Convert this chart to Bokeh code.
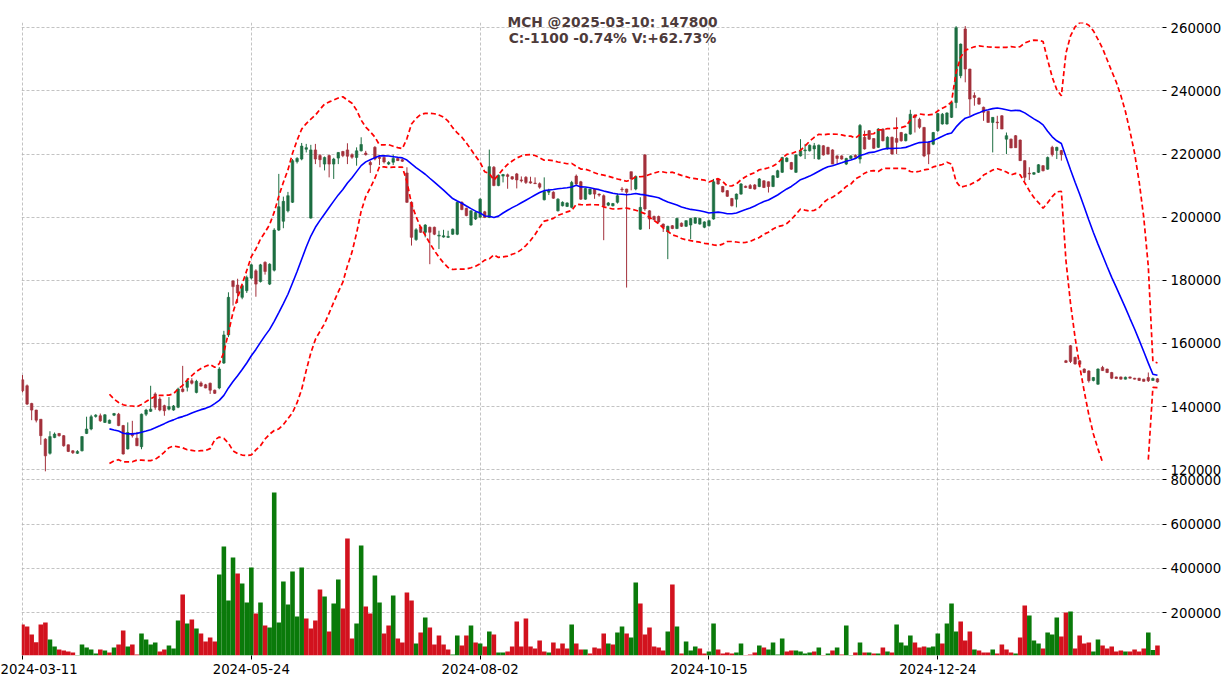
import numpy as np
import pandas as pd
from bokeh.plotting import figure
from bokeh.models import (ColumnDataSource, Range1d, FixedTicker, Label, BasicTickFormatter,
                          BoxAnnotation, Grid)
from bokeh.embed import file_html
from bokeh.resources import INLINE

title_text = "MCH @2025-03-10: 147800\nC:-1100 -0.74% V:+62.73%"
tick_index = [0, 50, 100, 150, 200]
tick_labels = ["2024-03-11", "2024-05-24", "2024-08-02", "2024-10-15", "2024-12-24"]
price_ticks = [120000, 140000, 160000, 180000, 200000, 220000, 240000, 260000]
volume_ticks = [200000, 400000, 600000, 800000]

opens = [
    148500, 146600, 141000, 138900, 136000, 129700, 125200, 130200, 131500, 130800,
    127900, 126000, 125200, 126000, 131500, 132900, 136900, 137100, 135000, 134700,
    137300, 137600, 134000, 126600, 131500, 130000, 127300, 137600, 138500, 144000,
    142400, 140300, 139200, 138900, 139800, 145600, 146100, 148200, 144500, 147500,
    146900, 147400, 145200, 145900, 153800, 162700, 179800, 178500, 174600, 176700,
    180700, 183000, 179600, 185700, 178800, 183200, 195900, 198700, 202000, 204700,
    217600, 218400, 221500, 199700, 221300, 219500, 216800, 219500, 216800, 218700,
    220800, 221300, 219800, 218900, 221000, 220300, 217300, 222100, 219000, 218900,
    216800, 217400, 218600, 218200, 214000, 204700, 192900, 196900, 195200, 196800,
    196800, 194000, 193700, 193600, 194600, 194600, 204700, 202800, 197500, 199400,
    200000, 201700, 199900, 215800, 210000, 213000, 213400, 212800, 213700, 211800,
    212600, 211200, 210800, 210600, 205500, 207900, 207900, 202000, 203600, 203400,
    203100, 213000, 211200, 205700, 207300, 208900, 207300, 206800, 203800, 203600,
    204700, 208900, 208900, 214400, 208900, 196200, 219700, 202000, 200200, 200200,
    197800, 195400, 197300, 196400, 198100, 197100, 197500, 198100, 197800, 196800,
    197300, 199400, 212100, 209700, 208400, 205900, 205700, 207300, 209800, 210000,
    210200, 209700, 211500, 211200, 209700, 212600, 214200, 217600, 217300, 214200,
    219400, 221000, 221000, 221600, 218400, 222600, 222100, 221300, 219400, 219400,
    216800, 218600, 219600, 218400, 225300, 227400, 224900, 222100, 227900, 221600,
    225300, 224900, 226800, 224200, 226300, 232300, 231000, 228400, 223700, 223100,
    227400, 229500, 229500, 231600, 236300, 244800, 259600, 246900, 238500, 237700,
    234800, 233500, 230000, 230100, 232100, 224700, 224700, 225800, 224400, 217900,
    213900, 213600, 214200, 216300, 215200, 222100, 221100, 221100, 154500, 159300,
    155600, 154500, 151900, 151300, 148300, 147100, 152400, 151900, 150800, 149400,
    149400, 148700, 149400, 149000, 149000, 148700, 149200, 148300, 148800,
]
highs = [
    150000, 147000, 141200, 139000, 136000, 130000, 132200, 131800, 131600, 131000,
    128000, 126200, 126200, 130600, 136800, 137400, 137600, 137800, 137600, 135900,
    138000, 138000, 134200, 135000, 135500, 132000, 137800, 139300, 146600, 144500,
    143000, 140600, 143000, 140500, 146000, 152900, 149000, 149000, 148500, 148000,
    147200, 147600, 145400, 152500, 164000, 176200, 180000, 180500, 178500, 181500,
    185200, 183500, 185200, 186000, 185400, 196500, 213700, 206500, 208000, 218400,
    219000, 223500, 223200, 222900, 223200, 220000, 219200, 219800, 218800, 220600,
    221000, 223400, 220200, 222100, 225300, 221000, 217800, 222500, 219500, 219300,
    217700, 219800, 219000, 218500, 215800, 205000, 196500, 197200, 197800, 197000,
    197000, 195700, 196000, 195700, 196400, 205000, 205000, 203000, 202200, 201800,
    206000, 202000, 221400, 216200, 213500, 213700, 213800, 213000, 214000, 212900,
    213000, 212800, 212600, 211000, 212600, 209000, 208200, 206000, 205000, 204700,
    211500, 213500, 211500, 209300, 209000, 209200, 207500, 207200, 204800, 204500,
    207500, 209500, 209000, 214400, 213200, 206300, 220000, 202200, 200500, 200500,
    198000, 197300, 197500, 199800, 198300, 199000, 199800, 200000, 199800, 198700,
    199200, 212100, 212200, 209900, 208600, 206100, 207500, 210800, 210000, 210500,
    210500, 212400, 211700, 211300, 213300, 215000, 219100, 219000, 217500, 220000,
    224700, 223200, 223000, 223500, 223000, 222800, 222300, 221500, 219600, 219600,
    218800, 219600, 219900, 229500, 227400, 227600, 225000, 228200, 228100, 225600,
    225500, 231600, 227000, 226500, 234000, 232600, 231500, 228600, 224000, 227000,
    233000, 233000, 233200, 236800, 260500, 255000, 260500, 247000, 239500, 237900,
    235000, 233700, 231600, 232100, 232300, 226800, 224900, 226000, 224600, 218000,
    215800, 214300, 216800, 216500, 219200, 222600, 222300, 221300, 154800, 159500,
    155800, 154700, 152100, 151500, 149400, 152100, 152900, 152000, 151000, 149500,
    149500, 149500, 149500, 149100, 149100, 148800, 150800, 149200, 149000,
]
lows = [
    144500, 140500, 135700, 135000, 127900, 119500, 124800, 130000, 130500, 127300,
    125600, 125000, 125000, 125800, 131300, 132500, 136500, 135200, 134800, 134600,
    137000, 133800, 124800, 126400, 130200, 127500, 126500, 137000, 138300, 139000,
    138500, 137100, 138800, 138700, 139500, 144500, 144800, 147000, 144200, 146300,
    145800, 144000, 144000, 145500, 153500, 162000, 172000, 172800, 174000, 176000,
    180300, 174800, 179300, 181800, 178500, 182800, 195600, 196500, 201500, 204500,
    217000, 218000, 220500, 199500, 216800, 215800, 214800, 212600, 212100, 216800,
    219000, 216800, 218500, 216300, 220800, 219500, 214000, 218000, 216500, 217000,
    216500, 216500, 217800, 217500, 204500, 191000, 192500, 195000, 193600, 185100,
    194300, 189900, 193500, 193400, 194400, 194300, 202200, 200300, 197300, 199100,
    199700, 199700, 199700, 209800, 209800, 211000, 209000, 211800, 209100, 211000,
    210500, 210600, 210500, 209000, 205300, 207000, 205800, 201800, 203400, 203200,
    202800, 210200, 205500, 205500, 207000, 205800, 206500, 192700, 203500, 203400,
    204300, 208000, 177700, 208500, 208500, 196000, 202000, 196200, 199000, 198000,
    195300, 186700, 196200, 196200, 196900, 196900, 193000, 197900, 197600, 196500,
    197000, 199200, 210300, 207800, 206400, 203400, 203100, 207100, 209200, 208900,
    208700, 209500, 209200, 207800, 209500, 212400, 214000, 217400, 215000, 214000,
    219200, 218400, 220800, 218400, 218200, 219500, 219800, 216800, 216800, 218200,
    216500, 218400, 218800, 217000, 221400, 224500, 221600, 221900, 224000, 221400,
    219800, 220000, 223900, 224000, 226100, 226800, 228000, 219000, 216800, 222800,
    227000, 229300, 229300, 231400, 234500, 244000, 242700, 232100, 235300, 235600,
    230500, 230000, 220500, 227900, 227900, 220000, 221900, 222000, 217900, 211500,
    211800, 213400, 214000, 214500, 215000, 219200, 218400, 217900, 153800, 153800,
    153300, 153200, 150600, 147600, 148000, 146900, 151300, 150600, 148700, 148800,
    148600, 148600, 148900, 148600, 148100, 147900, 147800, 148200, 147600,
]
closes = [
    145000, 140800, 138900, 135700, 130800, 124400, 130500, 131300, 130800, 127600,
    125800, 125400, 125800, 130500, 132900, 136800, 137300, 135500, 137400, 135700,
    137800, 134000, 125000, 131800, 130800, 127600, 137600, 138900, 139200, 139800,
    138900, 138700, 140000, 140200, 145600, 144800, 148200, 147400, 148000, 146500,
    145900, 145200, 144200, 151900, 162700, 174600, 178000, 176000, 178300, 180900,
    184900, 178800, 184900, 182800, 185100, 195900, 203300, 205000, 206800, 217900,
    218600, 222500, 222000, 221300, 218400, 218200, 218900, 216800, 218400, 220500,
    219500, 219300, 219000, 221000, 223000, 219800, 216600, 218400, 218600, 217500,
    217300, 218600, 217900, 217700, 204700, 193600, 196000, 195200, 197500, 195200,
    194600, 194300, 194100, 193900, 196200, 204700, 202400, 200500, 202000, 201500,
    205700, 199900, 216000, 210000, 213300, 213500, 212900, 212100, 211800, 211500,
    211000, 210800, 210600, 209500, 208100, 208400, 206000, 205700, 204700, 204500,
    211000, 210500, 205700, 209100, 208900, 207300, 207000, 203600, 204500, 204300,
    206800, 208700, 207900, 212100, 212900, 203100, 202600, 199400, 199200, 198500,
    196800, 197100, 196400, 199600, 197100, 198900, 199600, 199800, 199600, 198500,
    198900, 211200, 210500, 208000, 206600, 203600, 207300, 210500, 209400, 209100,
    208900, 212100, 209400, 209700, 213100, 214700, 218900, 218700, 215200, 219700,
    221000, 221300, 222800, 222600, 222800, 219700, 220000, 216800, 218600, 218400,
    218600, 219400, 219000, 229000, 221600, 224700, 221800, 227900, 224200, 225300,
    220000, 223700, 224200, 226300, 232600, 231600, 228500, 219400, 220000, 226800,
    232800, 232600, 233000, 236300, 260000, 254800, 246900, 237400, 237900, 235800,
    233200, 230000, 231600, 229900, 227900, 225800, 221900, 222000, 217900, 212600,
    213700, 214100, 216600, 214700, 218900, 219800, 222100, 219800, 154000, 154300,
    153500, 153400, 150800, 148200, 149200, 151900, 151400, 150800, 149000, 148900,
    148700, 149300, 149000, 148700, 148300, 148000, 148200, 148900, 147800,
]
volumes = [
    147200, 138200, 102100, 67500, 147200, 156300, 79600, 48000, 34500, 30000,
    25400, 20900, 5000, 57000, 43500, 34500, 16400, 34500, 30000, 20900,
    43500, 57000, 120200, 48000, 57000, 11900, 106600, 79600, 57000, 66100,
    25400, 34500, 52500, 39000, 165300, 282600, 151800, 169800, 129200, 106600,
    70500, 88600, 70500, 372800, 499100, 255500, 449500, 377300, 332200, 246500,
    404400, 196900, 246500, 142700, 133700, 742700, 156300, 341200, 237500, 386300,
    183300, 404400, 174300, 129200, 165300, 305100, 273500, 115700, 242000, 350200,
    219400, 535200, 84100, 151800, 503600, 228400, 196900, 368300, 246500, 106600,
    142700, 278100, 84100, 66100, 291600, 255500, 61500, 111200, 178800, 133700,
    57000, 97600, 57000, 34500, 11900, 97600, 52500, 97600, 142700, 66100,
    61500, 48000, 115700, 102100, 20900, 20900, 25400, 48000, 160800, 48000,
    174300, 48000, 39000, 75100, 25400, 20900, 66100, 39000, 61500, 39000,
    147200, 61500, 34500, 34500, 16400, 43500, 39000, 106600, 61500, 57000,
    111200, 138200, 106600, 88600, 336700, 242000, 102100, 133700, 48000, 43500,
    30000, 115700, 327700, 138200, 16400, 70500, 30000, 48000, 39000, 16400,
    25400, 151800, 34500, 16400, 20900, 16400, 20900, 61500, 5000, 11900,
    20900, 52500, 43500, 34500, 66100, 11900, 84100, 25400, 30000, 30000,
    25400, 16400, 20900, 25400, 43500, 5000, 16400, 30000, 43500, 11900,
    142700, 5000, 20900, 66100, 20900, 20900, 16400, 16400, 43500, 25400,
    20900, 147200, 66100, 52500, 97600, 66100, 43500, 48000, 43500, 48000,
    106600, 61500, 151800, 242000, 115700, 160800, 75100, 115700, 34500, 30000,
    20900, 20900, 34500, 16400, 57000, 34500, 20900, 16400, 88600, 233000,
    187900, 75100, 61500, 39000, 111200, 102100, 178800, 93100, 201400, 205900,
    39000, 97600, 61500, 66100, 25400, 79600, 52500, 39000, 48000, 25400,
    30000, 25400, 25400, 34500, 25400, 39000, 111200, 32000, 52100,
]

CANDLE_UP, CANDLE_DOWN = "#1d6e42", "#a3303b"
VOL_UP, VOL_DOWN = "#0a7a0a", "#d2121e"
GRID = "#b4b4b4"
FONT = "DejaVu Sans"

# one frame holds both panels: price on the top part, volume on the bottom part
PRICE_RANGE = (61175, 268614)        # price scale over the whole frame height
PRICE_PANEL = (119460, 261650)       # visible part of the price panel
VOL_RANGE = (7380, 2962279)          # volume scale over the whole frame height

n = len(closes)
idx = np.arange(n)
c = pd.Series(closes, dtype=float)
ma = c.rolling(20).mean()
sd = c.rolling(20).std(ddof=0)
upper = ma + 2 * sd
lower = ma - 2 * sd
lower_shown = lower.where(lower >= PRICE_PANEL[0])   # price panel ends above the volume panel
diff = c.diff()

o = np.array(opens, dtype=float)
cl = np.array(closes, dtype=float)
src = ColumnDataSource(dict(
    x=idx,
    h=highs,
    l=lows,
    top=np.maximum(o, cl),
    bottom=np.minimum(o, cl),
    color=[CANDLE_UP if a >= b else CANDLE_DOWN for b, a in zip(opens, closes)],
    vol=volumes,
    vcolor=[VOL_UP if d > 0 else VOL_DOWN for d in diff.fillna(-1)],
    ma=ma.values,
    up=upper.values,
    lo=lower_shown.values,
))


def vol_to_price(vv):
    return PRICE_RANGE[0] + (vv - VOL_RANGE[0]) * (PRICE_RANGE[1] - PRICE_RANGE[0]) / (VOL_RANGE[1] - VOL_RANGE[0])


vol_tick_pos = [int(round(vol_to_price(vv))) for vv in volume_ticks]

p = figure(width=1224, height=685, x_range=Range1d(-0.22, 249.1),
           y_range=Range1d(*PRICE_RANGE), x_axis_location="below", y_axis_location="right",
           output_backend="svg", toolbar_location=None,
           min_border_left=21, min_border_right=61, min_border_top=0, min_border_bottom=30)
p.outline_line_color = None
p.extra_y_ranges = {"vol": Range1d(*VOL_RANGE)}

for ax in (p.xaxis[0], p.yaxis[0]):
    ax.axis_line_color = None
    ax.major_tick_line_color = "black"
    ax.major_tick_out = 4
    ax.major_tick_in = 0
    ax.minor_tick_line_color = None
    ax.major_label_text_font = FONT
    ax.major_label_text_font_size = "13.3px"
    ax.major_label_text_color = "black"
    ax.major_label_standoff = 4

p.xaxis[0].ticker = FixedTicker(ticks=tick_index)
p.xaxis[0].major_label_overrides = {k: lab for k, lab in zip(tick_index, tick_labels)}
p.yaxis[0].ticker = FixedTicker(ticks=price_ticks + vol_tick_pos)
p.yaxis[0].formatter = BasicTickFormatter(use_scientific=False)
p.yaxis[0].major_label_overrides = {pos: str(vv) for pos, vv in zip(vol_tick_pos, volume_ticks)}

p.xgrid.ticker = FixedTicker(ticks=tick_index)
p.ygrid.ticker = FixedTicker(ticks=price_ticks)
vgrid = Grid(dimension=1, ticker=FixedTicker(ticks=volume_ticks), y_range_name="vol")
p.add_layout(vgrid)
for g in (p.xgrid[0], p.ygrid[0], vgrid):
    g.grid_line_color = GRID
    g.grid_line_dash = "3 2"
    g.grid_line_width = 0.8

# volume panel
p.vbar(x="x", width=1.0, top="vol", bottom=0, fill_color="vcolor", line_color=None,
       source=src, y_range_name="vol")

# price panel
p.segment(x0="x", y0="l", x1="x", y1="h", line_color="color", line_width=1, source=src)
p.vbar(x="x", width=0.55, top="top", bottom="bottom", fill_color="color",
       line_color="color", line_width=0.6, source=src)
p.line("x", "ma", line_color="#0000ff", line_width=1.6, source=src)
p.line("x", "up", line_color="#ff0000", line_width=1.7, line_dash="5 3", source=src)
p.line("x", "lo", line_color="#ff0000", line_width=1.7, line_dash="5 3", source=src)

# strip above the price panel, where the title sits
p.add_layout(BoxAnnotation(bottom=PRICE_PANEL[1], fill_color="white", fill_alpha=1.0,
                           line_color=None))
p.add_layout(Label(x=591, y=642, x_units="screen", y_units="screen", text=title_text,
                   text_align="center", text_baseline="top", text_font=FONT,
                   text_font_style="bold", text_font_size="13.8px", text_color="#4e3b3b",
                   text_line_height=1.02))

open("out.html", "w").write(file_html(p, INLINE))
